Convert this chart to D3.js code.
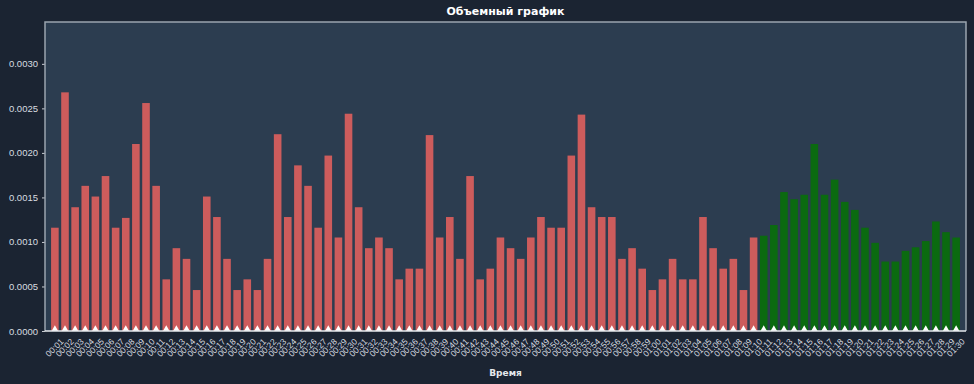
<!DOCTYPE html>
<html>
<head>
<meta charset="utf-8">
<script src="https://cdn.jsdelivr.net/npm/d3@7"></script>
<style>
  body { margin: 0; background: #1b2432; }
  svg { display: block; font-family: "DejaVu Sans", sans-serif; }
</style>
</head>
<body>
<div id="chart"></div>
<script>
// minute labels, 90 bars
var times = [];
for (var i = 1; i <= 90; i++) {
  var h = Math.floor(i / 60), m = i % 60;
  times.push((h < 10 ? "0" : "") + h + ":" + (m < 10 ? "0" : "") + m);
}

// volume per minute (first 70 are red, last 20 green)
var volumes = [
  0.00116, 0.00268, 0.00139, 0.00163, 0.00151, 0.00174, 0.00116, 0.00127, 0.00210, 0.00256,
  0.00163, 0.00058, 0.00093, 0.00081, 0.00046, 0.00151, 0.00128, 0.00081, 0.00046, 0.00058,
  0.00046, 0.00081, 0.00221, 0.00128, 0.00186, 0.00163, 0.00116, 0.00197, 0.00105, 0.00244,
  0.00139, 0.00093, 0.00105, 0.00093, 0.00058, 0.00070, 0.00070, 0.00220, 0.00105, 0.00128,
  0.00081, 0.00174, 0.00058, 0.00070, 0.00105, 0.00093, 0.00081, 0.00105, 0.00128, 0.00116,
  0.00116, 0.00197, 0.00243, 0.00139, 0.00128, 0.00128, 0.00081, 0.00093, 0.00070, 0.00046,
  0.00058, 0.00081, 0.00058, 0.00058, 0.00128, 0.00093, 0.00070, 0.00081, 0.00046, 0.00105,
  0.00107, 0.00119, 0.00156, 0.00148, 0.00153, 0.00210, 0.00153, 0.00170, 0.00145, 0.00136,
  0.00116, 0.00099, 0.00078, 0.00078, 0.00090, 0.00094, 0.00101, 0.00123, 0.00111, 0.00105
];
var redCount = 70;
var yTicks = [0, 0.0005, 0.001, 0.0015, 0.002, 0.0025, 0.003];

var width = 974, height = 384;
var margin = { top: 22, right: 8, bottom: 53, left: 45 };

var svg = d3.select("#chart").append("svg")
  .attr("width", width)
  .attr("height", height);

svg.append("rect").attr("width", width).attr("height", height).attr("fill", "#1b2432");

var x = d3.scaleBand()
  .domain(times)
  .range([margin.left, width - margin.right])
  .paddingInner(0.25)
  .paddingOuter(0.6);

var y = d3.scaleLinear()
  .domain([0, 0.00347])
  .range([height - margin.bottom, margin.top]);

// axes background
svg.append("rect")
  .attr("x", margin.left)
  .attr("y", margin.top)
  .attr("width", width - margin.left - margin.right)
  .attr("height", height - margin.top - margin.bottom)
  .attr("fill", "#2c3d50");

svg.append("clipPath").attr("id", "clip")
  .append("rect")
  .attr("x", margin.left)
  .attr("y", margin.top)
  .attr("width", width - margin.left - margin.right)
  .attr("height", height - margin.top - margin.bottom);

var plot = svg.append("g").attr("clip-path", "url(#clip)");

plot.selectAll("rect.bar")
  .data(volumes)
  .enter()
  .append("rect")
  .attr("class", "bar")
  .attr("x", (d, i) => x(times[i]))
  .attr("y", (d) => y(d))
  .attr("width", x.bandwidth())
  .attr("height", (d) => y(0) - y(d))
  .attr("fill", (d, i) => (i < redCount ? "#cd5c5c" : "#0b6a10"));

// white markers at the base
plot.selectAll("path.mark")
  .data(volumes)
  .enter()
  .append("path")
  .attr("class", "mark")
  .attr("d", d3.symbol().type(d3.symbolTriangle).size(28))
  .attr("transform", (d, i) => "translate(" + (x(times[i]) + x.bandwidth() / 2) + "," + (y(0) - 1) + ")")
  .attr("fill", "white");

// y axis
var yAxis = svg.append("g")
  .attr("transform", "translate(" + margin.left + ",0)")
  .call(d3.axisLeft(y).tickValues(yTicks).tickFormat(d3.format(".4f")).tickSize(3));
yAxis.select(".domain").remove();
yAxis.selectAll("line").attr("stroke", "#c8ccd2");
yAxis.selectAll("text").attr("fill", "#d8dce0").attr("font-size", 9.5).attr("dx", -1);

// x axis
var xAxis = svg.append("g")
  .attr("transform", "translate(0," + y(0) + ")")
  .call(d3.axisBottom(x).tickSize(0));
xAxis.select(".domain").remove();
xAxis.selectAll("text")
  .attr("fill", "#d8dce0")
  .attr("font-size", 8.5)
  .attr("text-anchor", "end")
  .attr("dy", "0.35em")
  .attr("transform", "translate(5,7) rotate(-45)");

// spines
var x0 = margin.left, x1 = width - margin.right, y0 = margin.top, y1 = height - margin.bottom;
svg.append("path")
  .attr("d", "M" + x0 + "," + y1 + "V" + y0 + "H" + x1 + "V" + y1)
  .attr("fill", "none")
  .attr("stroke", "#9aa4ae")
  .attr("stroke-width", 1.5);
svg.append("line")
  .attr("x1", x0).attr("x2", x1).attr("y1", y1).attr("y2", y1)
  .attr("stroke", "#e6e9ec")
  .attr("stroke-width", 1.5);

// title and label
svg.append("text")
  .attr("x", (x0 + x1) / 2)
  .attr("y", 15)
  .attr("text-anchor", "middle")
  .attr("fill", "white")
  .attr("font-size", 11)
  .attr("font-weight", "bold")
  .text("Объемный график");

svg.append("text")
  .attr("x", (x0 + x1) / 2)
  .attr("y", 376)
  .attr("text-anchor", "middle")
  .attr("fill", "#e6e9ec")
  .attr("font-size", 9)
  .attr("font-weight", "bold")
  .text("Время");
</script>
</body>
</html>
